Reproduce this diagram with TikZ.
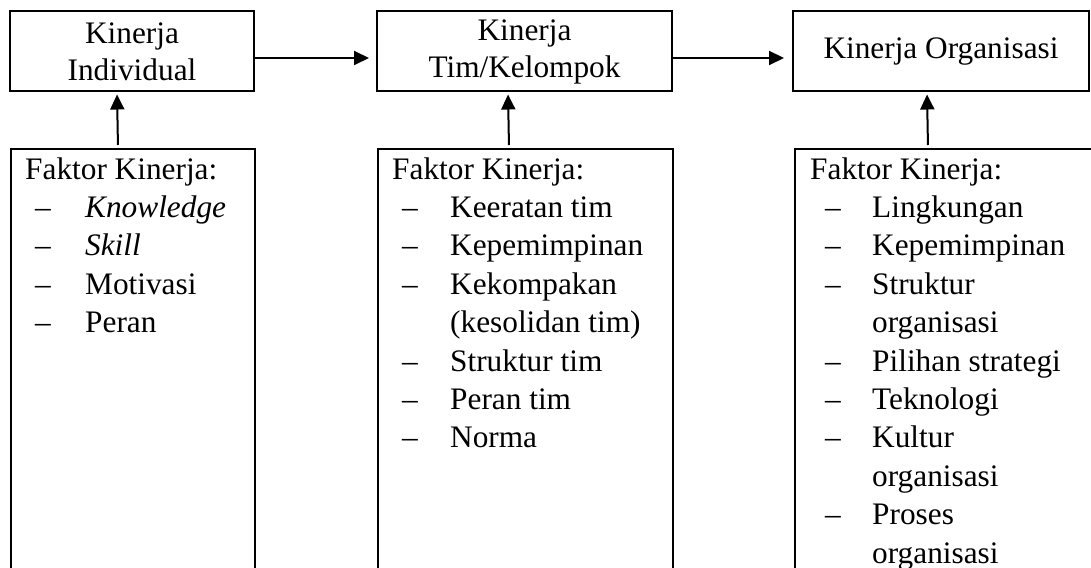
\documentclass[tikz,border=0pt]{standalone}
\usepackage{fontspec}
\setmainfont{Liberation Serif}
\usetikzlibrary{arrows.meta}
\begin{document}
\begin{tikzpicture}[x=1pt,y=-1pt,
  box/.style={draw, line width=2pt, inner sep=0pt, align=center, font=\fontsize{31.3}{37}\selectfont},
  fbox/.style={draw, line width=2pt, inner sep=0pt, anchor=north west, minimum height=500pt},
  lst/.style={anchor=base west, inner sep=0pt, font=\fontsize{31.3}{38.4}\selectfont},
  arr/.style={line width=2pt, -{Triangle[length=15pt,width=14pt]}}]
\clip (0,0) rectangle (1091,567);
% top boxes
\node[box, minimum width=244pt, minimum height=80pt] (b1) at (132,51.5) {Kinerja\\Individual};
\node[box, minimum width=295pt, minimum height=80pt] (b2) at (524.5,51.5) {Kinerja\\Tim/Kelompok};
\node[box, minimum width=296pt, minimum height=80pt] (b3) at (941,51.5) {Kinerja Organisasi};
% bottom boxes (open at the bottom edge of the picture)
\node[fbox, minimum width=244pt] (f1) at (10,148) {};
\node[fbox, minimum width=295pt] (f2) at (377,148) {};
\node[fbox, minimum width=306pt] (f3) at (794,148) {};
% horizontal arrows
\draw[arr, shorten >=7pt] ([yshift=-6.5pt]b1.east) -- ([yshift=-6.5pt]b2.west);
\draw[arr, shorten >=8pt] ([yshift=-6.5pt]b2.east) -- ([yshift=-6.5pt]b3.west);
% vertical arrows
\draw[arr, shorten <=3pt, shorten >=2pt] ([xshift=-15pt]f1.north) -- ([xshift=-15pt]b1.south);
\draw[arr, shorten <=3pt, shorten >=2pt] ([xshift=-16.5pt]f2.north) -- ([xshift=-16.5pt]b2.south);
\draw[arr, shorten <=3pt, shorten >=2pt] ([xshift=-20pt]f3.north) -- ([xshift=-14pt]b3.south);
% column 1
\node[lst] (h1) at (25,179) {Faktor Kinerja:};
\foreach \t [count=\i] in {\textit{Knowledge}, \textit{Skill}, Motivasi, Peran}
  \node[lst] (a\i) at (85,179+38.4*\i) {\t};
\foreach \i in {1,...,4}
  \node[lst] (da\i) at (35,179+38.4*\i) {–};
% column 2
\node[lst] (h2) at (392,179) {Faktor Kinerja:};
\foreach \t [count=\i] in {Keeratan tim, Kepemimpinan, Kekompakan, {(kesolidan tim)}, Struktur tim, Peran tim, Norma}
  \node[lst] (b\i) at (450,179+38.4*\i) {\t};
\foreach \i in {1,2,3,5,6,7}
  \node[lst] (db\i) at (402,179+38.4*\i) {–};
% column 3
\node[lst] (h3) at (810,179) {Faktor Kinerja:};
\foreach \t [count=\i] in {Lingkungan, Kepemimpinan, Struktur, organisasi, Pilihan strategi, Teknologi, Kultur, organisasi, Proses, organisasi}
  \node[lst] (c\i) at (872,179+38.4*\i) {\t};
\foreach \i in {1,2,3,5,6,7,9}
  \node[lst] (dc\i) at (825,179+38.4*\i) {–};
\end{tikzpicture}
\end{document}
